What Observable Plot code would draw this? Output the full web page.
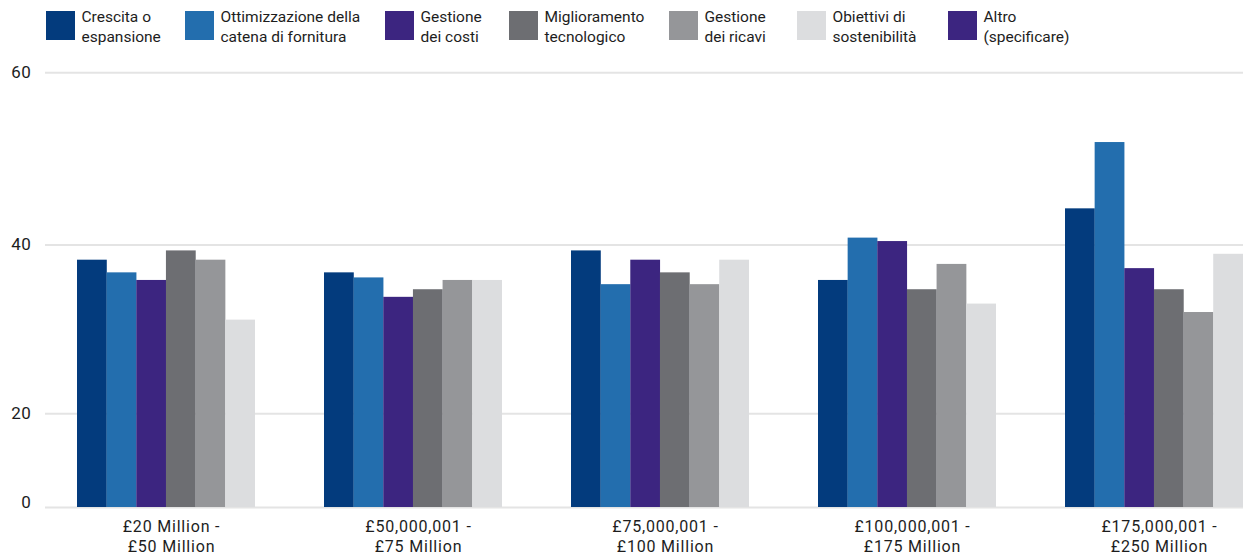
<!DOCTYPE html>
<html>
<head>
<meta charset="utf-8">
<script src="https://cdn.jsdelivr.net/npm/d3@7"></script>
<script src="https://cdn.jsdelivr.net/npm/@observablehq/plot@0.6"></script>
<style>
  html, body { margin: 0; padding: 0; background: #fff; }
  body { width: 1249px; font-family: Roboto, "Noto Sans", sans-serif; color: #1d1d1d; }
  #legend { height: 56px; position: relative; }
  .item { position: absolute; top: 7px; display: flex; align-items: flex-start; }
  .item:nth-child(1) { left: 46px; }
  .item:nth-child(2) { left: 185px; }
  .item:nth-child(3) { left: 385px; }
  .item:nth-child(4) { left: 509px; }
  .item:nth-child(5) { left: 669px; }
  .item:nth-child(6) { left: 797px; }
  .item:nth-child(7) { left: 948px; }
  .swatch { width: 29px; height: 29px; margin-top: 4px; flex: none; }
  .label { margin-left: 6.5px; font-size: 15.5px; line-height: 20px; white-space: nowrap; }
  #chart svg { display: block; }
  #chart g[aria-label="x-axis tick label"] text { letter-spacing: 0.8px; }
  #chart g[aria-label="y-axis tick label"] text { letter-spacing: 0.6px; }
</style>
</head>
<body>
<div id="legend"></div>
<div id="chart"></div>
<script>
// Revenue bands (x categories) with two-line tick labels
const groups = [
  "£20 Million -\n£50 Million",
  "£50,000,001 -\n£75 Million",
  "£75,000,001 -\n£100 Million",
  "£100,000,001 -\n£175 Million",
  "£175,000,001 -\n£250 Million"
];

// Legend entries (Italian) and their colours
const seriesNames = [
  "Crescita o\nespansione",
  "Ottimizzazione della\ncatena di fornitura",
  "Gestione\ndei costi",
  "Miglioramento\ntecnologico",
  "Gestione\ndei ricavi",
  "Obiettivi di\nsostenibilità",
  "Altro\n(specificare)"
];
const seriesColors = ["#033b7d", "#236eae", "#3c2580", "#6d6e72", "#959699", "#dcdddf", "#3c2580"];

// Values per series, one entry per revenue band
const crescita       = [38.2, 36.7, 39.3, 35.8, 44.2];
const ottimizzazione = [36.7, 36.1, 35.3, 40.8, 51.9];
const costi          = [35.8, 33.8, 38.2, 40.4, 37.2];
const tecnologico    = [39.3, 34.7, 36.7, 34.7, 34.7];
const ricavi         = [38.2, 35.8, 35.3, 37.7, 32.0];
const sostenibilita  = [31.1, 35.8, 38.2, 33.0, 38.9];

const barSeries = [crescita, ottimizzazione, costi, tecnologico, ricavi, sostenibilita];

// Y axis tick values
const yTicks = [20, 40, 60];
const yZeroTick = [0];

// Legend
const legend = d3.select("#legend");
seriesNames.forEach((name, i) => {
  const item = legend.append("div").attr("class", "item");
  item.append("div").attr("class", "swatch").style("background", seriesColors[i]);
  const lab = item.append("div").attr("class", "label");
  name.split("\n").forEach(line => lab.append("div").text(line));
});

// Band layout shared by the scale and the per-series insets
const xRange = [77, 1243];
const padInner = 0.28;
const band = d3.scaleBand(groups, xRange).paddingInner(padInner).paddingOuter(0);
const slot = band.bandwidth() / barSeries.length;

const rows = barSeries.map((vals, s) => vals.map((v, g) => ({group: groups[g], value: v, s})));

const marks = [
  Plot.gridY([0, 20, 40, 60], {stroke: "#e4e4e4", strokeOpacity: 1, strokeWidth: 2}),
  ...rows.map((data, s) => Plot.barY(data, {
    x: "group",
    y: "value",
    fill: seriesColors[s],
    insetLeft: s * slot,
    insetRight: (barSeries.length - 1 - s) * slot
  })),
  Plot.axisY(yTicks, {tickSize: 0, tickPadding: 14, fontSize: 17, fill: "#1d1d1d"}),
  Plot.axisY(yZeroTick, {tickSize: 0, tickPadding: 14, fontSize: 17, fill: "#1d1d1d", dy: -5}),
  Plot.axisX({tickSize: 0, tickPadding: 10, fontSize: 16, lineHeight: 1.25, dx: 5, fill: "#1d1d1d"})
];

const chart = Plot.plot({
  width: 1249,
  height: 498,
  marginLeft: 45,
  marginRight: 6,
  marginTop: 10,
  marginBottom: 47,
  style: {fontFamily: "Roboto, 'Noto Sans', sans-serif", color: "#1d1d1d", background: "#fff"},
  x: {domain: groups, range: xRange, paddingInner: padInner, paddingOuter: 0, label: null},
  // piecewise linear: the 0–20 stretch of the axis is compressed
  y: {type: "linear", domain: [0, 20, 40, 60], range: [451, 357.3, 188.5, 16.3], label: null},
  marks
});
document.getElementById("chart").appendChild(chart);
</script>
</body>
</html>
